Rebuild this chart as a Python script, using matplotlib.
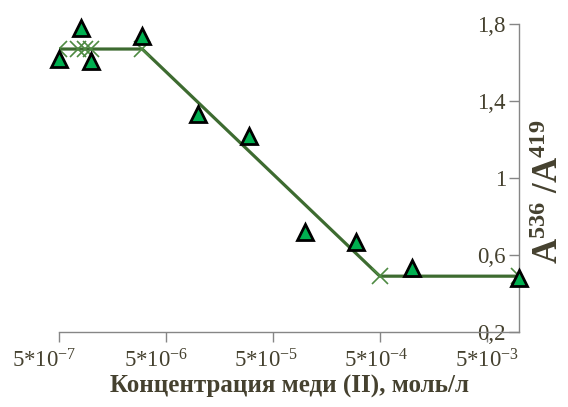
import matplotlib.pyplot as plt
import matplotlib.transforms as mtransforms
import numpy as np

plt.rcParams['font.family'] = 'Liberation Serif'
plt.rcParams['mathtext.fontset'] = 'custom'
plt.rcParams['mathtext.rm'] = 'Liberation Serif'
plt.rcParams['mathtext.it'] = 'Liberation Serif'
plt.rcParams['mathtext.bf'] = 'Liberation Serif:bold'

# measured points (triangles)
conc = [5e-7, 8e-7, 1e-6, 3e-6, 1e-5, 3e-5, 1e-4, 3e-4, 1e-3, 1e-2]
ratio = [1.62, 1.78, 1.61, 1.74, 1.33, 1.22, 0.72, 0.67, 0.53, 0.48]

# fitted broken line
fit_conc = [5e-7, 7.5e-7, 8.8e-7, 1e-6, 3e-6, 5e-4, 1e-2]
fit_ratio = [1.67, 1.67, 1.67, 1.67, 1.67, 0.49, 0.49]

xticks = [5e-7, 5e-6, 5e-5, 5e-4, 5e-3]
xticklabels = [r'$5{*}10^{-7}$', r'$5{*}10^{-6}$', r'$5{*}10^{-5}$',
               r'$5{*}10^{-4}$', r'$5{*}10^{-3}$']
yticks = [0.2, 0.6, 1.0, 1.4, 1.8]
yticklabels = ['0,2', '0,6', '1', '1,4', '1,8']

txt = '#45412f'
axcol = '#868686'

fig = plt.figure(figsize=(5.68, 4.07), dpi=100)
ax = fig.add_axes([59/568, 1 - 332/407, 460/568, 308/407])

ax.plot(fit_conc, fit_ratio, color='#3d6b30', lw=2.3, marker='x', ms=11,
        mec='#4e8a42', mew=1.2, zorder=2)
ax.plot(conc, ratio, ls='none', marker='^', ms=11, mfc='#00b050', mec='black',
        mew=2, zorder=3, clip_on=False)

ax.set_xscale('log')
ax.set_xlim(5e-7, 1e-2)
ax.set_ylim(0.2, 1.8)
ax.set_xticks(xticks)
ax.set_xticklabels(xticklabels)
ax.minorticks_off()
ax.set_yticks(yticks)
ax.set_yticklabels(yticklabels)

ax.spines['top'].set_visible(False)
ax.spines['right'].set_visible(False)
ax.spines['left'].set_position(('axes', 1.0))
for s in ('left', 'bottom'):
    ax.spines[s].set_color(axcol)
    ax.spines[s].set_linewidth(1.0)
ax.tick_params(axis='both', direction='out', length=7.5, width=1, color=axcol,
               labelsize=16.5, labelcolor=txt)
ax.tick_params(axis='y', pad=2)
ax.tick_params(axis='x', pad=5)

# Excel drew the left labels a bit left of their ticks
shifts = [-15, -10, -7, -3, 0]
for lab, dx in zip(ax.get_xticklabels(), shifts):
    lab.set_transform(lab.get_transform() +
                      mtransforms.ScaledTranslation(dx / 100, 0, fig.dpi_scale_trans))

ax.set_xlabel('Концентрация меди (II), моль/л', fontsize=18, fontweight='bold',
              color=txt, labelpad=2)
fig.text(549/568, 1 - 192/407, r'$\mathbf{A^{536}\ /A^{419}}$', rotation=90,
         fontsize=25, color=txt, ha='center', va='center')

fig.savefig('out.png', dpi=100)
